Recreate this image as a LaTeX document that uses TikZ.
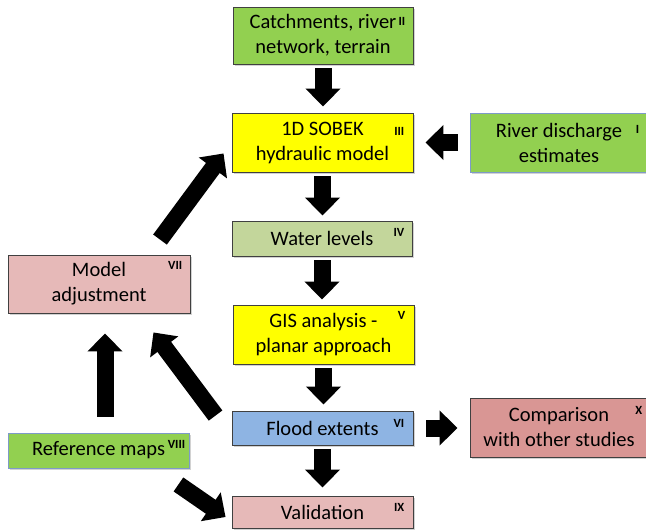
\documentclass[tikz,border=0pt]{standalone}
\usepackage{fontspec}
\setmainfont{Carlito}
\usepackage{tikz}
\usetikzlibrary{arrows.meta,shadows}

\definecolor{boxgreen}{HTML}{92D050}
\definecolor{boxyellow}{HTML}{FFFF00}
\definecolor{boxolive}{HTML}{C3D69B}
\definecolor{boxpink}{HTML}{E6B9B8}
\definecolor{boxrose}{HTML}{D99694}
\definecolor{boxblue}{HTML}{8EB4E3}
\definecolor{boxline}{HTML}{404040}
\definecolor{blueline}{HTML}{7E9AC8}

\tikzset{
  box/.style={draw=boxline, line width=0.9pt, rectangle, align=center,
    inner sep=0pt, minimum width=181pt, minimum height=59pt,
    font=\fontsize{20.5}{25}\selectfont,
    drop shadow={shadow xshift=1.5pt, shadow yshift=-1.5pt, fill=black!35, opacity=0.5}},
  tag/.style={anchor=north east, inner sep=0pt,
    font=\fontsize{12.5}{12.5}\selectfont\bfseries},
  blockarrow/.style={line width=17pt, draw=black,
    -{Triangle[length=18pt, width=34pt]}}
}

\begin{document}
\begin{tikzpicture}[x=1pt, y=-1pt]
\useasboundingbox (0,0) rectangle (646,531);

% boxes
\node[box, fill=boxgreen, minimum width=180pt, minimum height=57pt,
  label={[tag, shift={(-8,11)}]north east:II}] (catch) at (323,35.5)
  {Catchments, river\\network, terrain};
\node[box, fill=boxyellow,
  label={[tag, shift={(-9,15)}]north east:III}] (sobek) at (322.5,142.5)
  {1D SOBEK\\hydraulic model};
\node[box, fill=boxgreen, draw=blueline, minimum width=178pt,
  label={[tag, shift={(-9,13)}]north east:I}] (discharge) at (559,142.5)
  {River discharge\\estimates};
\node[box, fill=boxolive, minimum width=180pt, minimum height=35pt,
  label={[tag, shift={(-8,8)}]north east:IV}] (levels) at (322,238.5)
  {Water levels};
\node[box, fill=boxpink, minimum width=182pt, minimum height=58pt,
  label={[tag, shift={(-8,7)}]north east:VII}] (adjust) at (99,284)
  {Model\\adjustment};
\node[box, fill=boxyellow,
  label={[tag, shift={(-9,7)}]north east:V}] (gis) at (323.5,334.5)
  {GIS analysis -\\planar approach};
\node[box, fill=boxblue, minimum height=34pt,
  label={[tag, shift={(-9,9)}]north east:VI}] (flood) at (322.5,428)
  {Flood extents};
\node[box, fill=boxrose, minimum width=178pt,
  label={[tag, shift={(-6,9)}]north east:X}] (compare) at (559,427.5)
  {Comparison\\with other studies};
\node[box, fill=boxgreen, draw=blueline, minimum height=35pt,
  label={[tag, shift={(-4,8)}]north east:VIII}] (refmaps) at (98.5,450.5)
  {Reference maps};
\node[box, fill=boxpink, minimum height=32pt,
  label={[tag, shift={(-9,8)}]north east:IX}] (valid) at (322.5,512)
  {Validation};

% arrows down the middle
\draw[blockarrow, shorten <=4pt, shorten >=6pt] (catch.south) -- (catch.south |- sobek.north);
\draw[blockarrow, shorten <=4pt, shorten >=5pt] (sobek.south) -- (sobek.south |- levels.north);
\draw[blockarrow, shorten <=4pt, shorten >=5pt] (levels.south) -- (levels.south |- gis.north);
\draw[blockarrow, shorten <=4pt, shorten >=6pt] (gis.south) -- (gis.south |- flood.north);
\draw[blockarrow, shorten <=4pt, shorten >=8pt] (flood.south) -- (flood.south |- valid.north);

% side arrows
\draw[blockarrow, shorten <=12pt, shorten >=12pt] (discharge.west) -- (discharge.west -| sobek.east);
\draw[blockarrow, shorten <=13pt, shorten >=12pt] (flood.east) -- (flood.east -| compare.west);
\draw[blockarrow, shorten <=16pt, shorten >=20pt]
  ([xshift=6.5pt]refmaps.north) -- ([xshift=6.5pt]refmaps.north |- adjust.south);
\draw[blockarrow] ([shift={(61,-15)}]adjust.north) -- ([shift={(-8,-19)}]sobek.south west);
\draw[blockarrow] ([shift={(-16,5)}]flood.north west) -- ([shift={(-37,19)}]adjust.south east);
\draw[blockarrow] ([shift={(-11,16)}]refmaps.south east) -- ([shift={(-6,5)}]valid.west);
\end{tikzpicture}
\end{document}
